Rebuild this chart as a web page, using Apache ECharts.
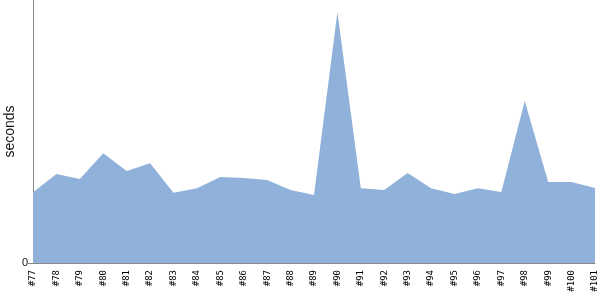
<!DOCTYPE html>
<html><head><meta charset="utf-8">
<script src="https://cdn.jsdelivr.net/npm/echarts@6/dist/echarts.min.js"></script>
<style>html,body{margin:0;padding:0;background:#fff}#c{width:600px;height:300px}</style>
</head><body><div id="c"></div>
<script>
const categories = ['#77','#78','#79','#80','#81','#82','#83','#84','#85','#86','#87','#88','#89','#90','#91','#92','#93','#94','#95','#96','#97','#98','#99','#100','#101'];
const seconds = [70.7,89,84,109.7,92,99.7,70.3,74.7,86,85,83,73,68,250.7,74.7,73,90,74.7,69,74.7,71,162,81,81,75];
const yMax = 263;
const chart = echarts.init(document.getElementById('c'));
chart.setOption({
  animation:false,
  textStyle:{fontFamily:'Liberation Sans'},
  grid:{left:33,right:5,top:0,bottom:37,containLabel:false,outerBoundsMode:'none'},
  xAxis:{type:'category',data:categories,boundaryGap:false,
    axisLine:{lineStyle:{color:'#888'}},axisTick:{show:false},
    axisLabel:{rotate:90,interval:0,fontSize:9,color:'#000',margin:7,fontFamily:'DejaVu Sans Mono'}},
  yAxis:{type:'value',min:0,max:yMax,interval:yMax,name:'seconds',nameLocation:'middle',nameGap:16,
    nameMoveOverlap:false,
    nameTextStyle:{fontSize:14,color:'#111',fontFamily:'Liberation Sans'},
    axisLine:{show:true,lineStyle:{color:'#888'}},axisTick:{show:true,length:5,lineStyle:{color:'#888'}},
    splitLine:{show:false},
    axisLabel:{showMaxLabel:false,fontSize:11,color:'#111',margin:5,fontFamily:'Liberation Sans'}},
  series:[{type:'line',data:seconds,symbol:'none',lineStyle:{width:0},
    areaStyle:{color:'#90b2da',opacity:1},itemStyle:{color:'#90b2da'}}]
});
</script></body></html>
